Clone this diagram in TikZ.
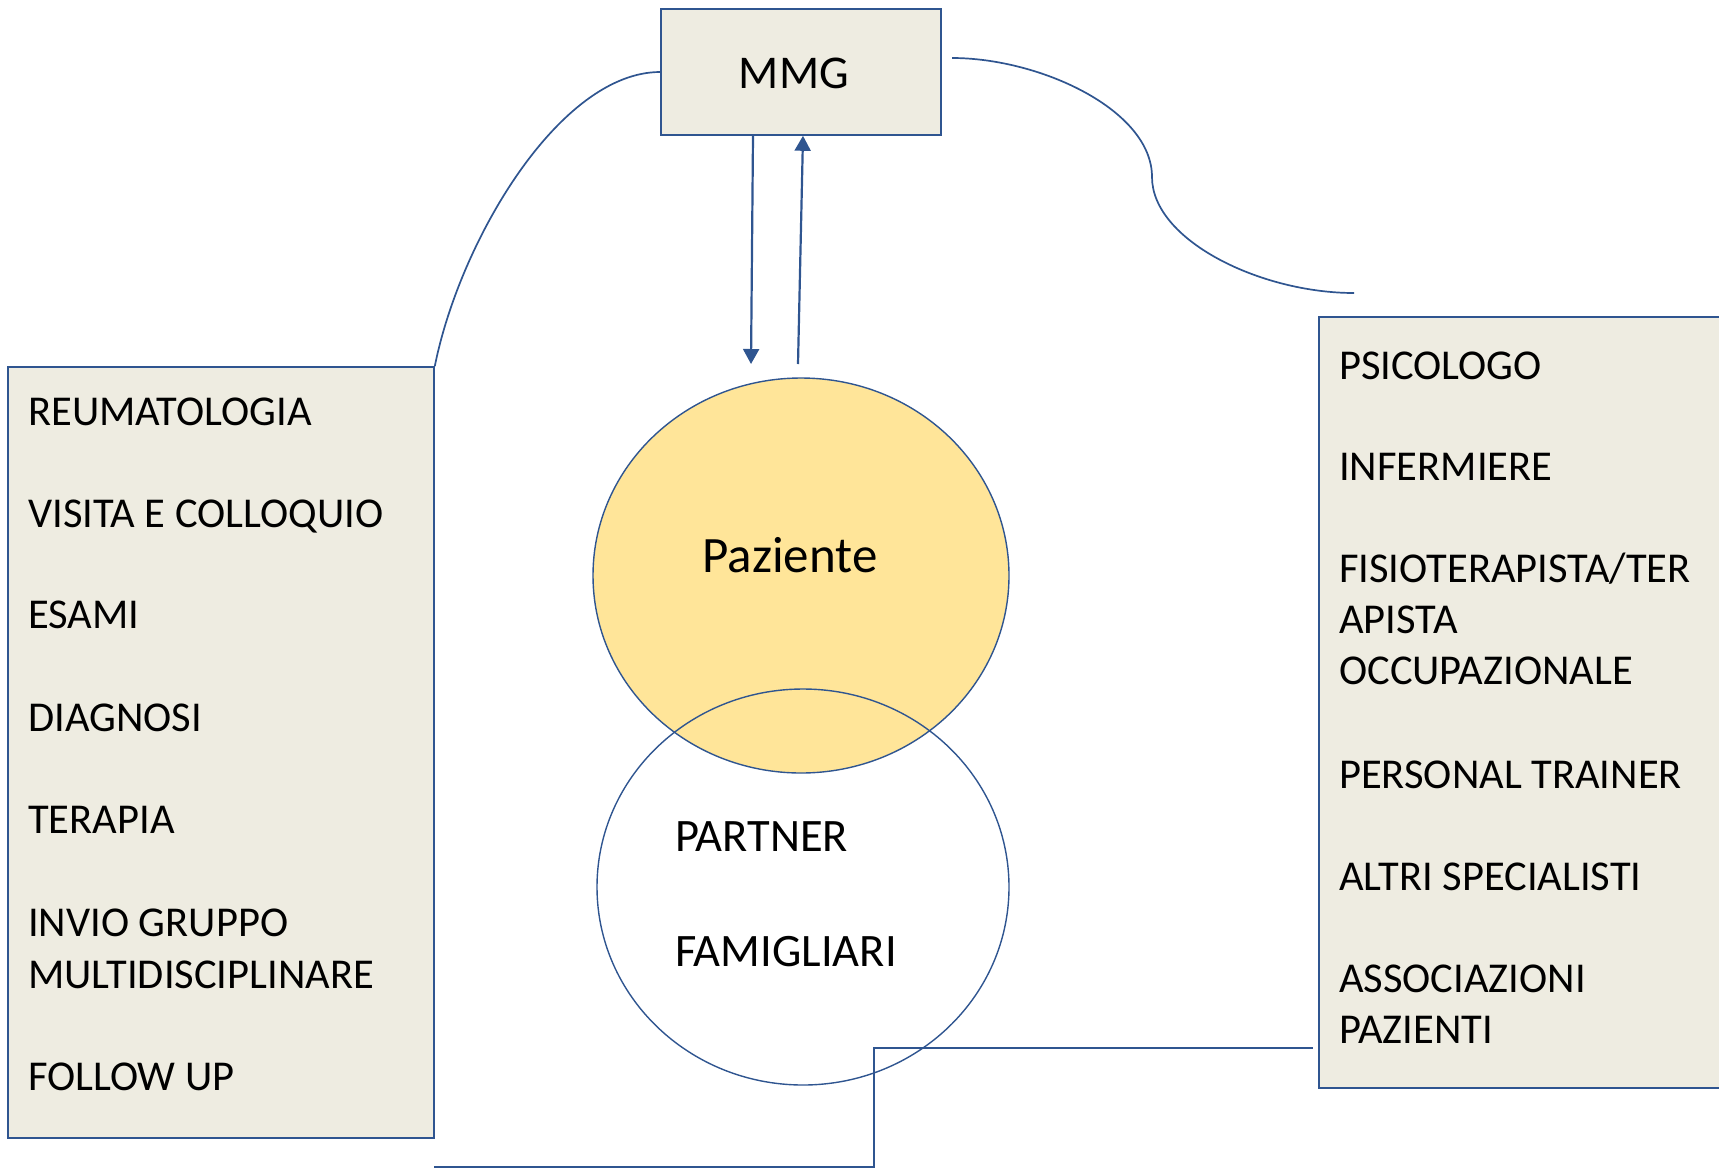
\documentclass[tikz,border=0pt]{standalone}
\usepackage{fontspec}
\setmainfont{Carlito}
\usetikzlibrary{arrows.meta,shapes.geometric}
\definecolor{edge}{HTML}{2F5590}
\definecolor{panel}{HTML}{EEECE1}
\definecolor{gold}{HTML}{FFE599}

\begin{document}
\begin{tikzpicture}[x=1pt,y=-1pt,
  panelbox/.style={rectangle, draw=edge, line width=1.6pt, fill=panel, inner sep=0pt},
  link/.style={draw=edge, line width=1.7pt},
  arr/.style={draw=edge, line width=2.2pt, -{Triangle[width=16pt,length=15pt]}},
  item/.style={anchor=base west, inner sep=0pt, font=\fontsize{42.5}{52}\selectfont},
  bigtext/.style={anchor=base, inner sep=0pt},
]
\useasboundingbox (0,0) rectangle (1719,1168);

% boxes
\node[panelbox, minimum width=280pt, minimum height=126pt] (mmg) at (801,72) {};
\node[bigtext, font=\fontsize{47}{56}\selectfont] (mmgtxt) at (794,88) {MMG};

\node[panelbox, minimum width=426pt, minimum height=771pt] (lbox) at (221,752.5) {};
\node[panelbox, minimum width=421pt, minimum height=771pt] (rbox) at (1529.5,702.5) {};

% patient and family circles
\node[ellipse, draw=edge, line width=1.4pt, fill=gold, minimum width=416pt, minimum height=395pt, inner sep=0pt] (paz) at (801,575.5) {};
\node[ellipse, draw=edge, line width=1.4pt, minimum width=412pt, minimum height=396pt, inner sep=0pt] (fam) at (803,887) {};
\node[bigtext, font=\fontsize{51}{60}\selectfont] (paztxt) at (790,572) {Paziente};
\node[item, font=\fontsize{46.5}{56}\selectfont] (partner) at (675,851) {PARTNER};
\node[item, font=\fontsize{46.5}{56}\selectfont] (famigliari) at (675,966) {FAMIGLIARI};

% left list
\node[item] (l1) at (28,425) {REUMATOLOGIA};
\node[item] (l2) at (28,527) {VISITA E COLLOQUIO};
\node[item] (l3) at (28,628) {ESAMI};
\node[item] (l4) at (28,731) {DIAGNOSI};
\node[item] (l5) at (28,833) {TERAPIA};
\node[item] (l6a) at (28,936) {INVIO GRUPPO};
\node[item] (l6b) at (28,988) {MULTIDISCIPLINARE};
\node[item] (l7) at (28,1090) {FOLLOW UP};

% right list
\node[item] (r1) at (1339,379) {PSICOLOGO};
\node[item] (r2) at (1339,480) {INFERMIERE};
\node[item] (r3a) at (1339,582) {FISIOTERAPISTA/TER};
\node[item] (r3b) at (1339,633) {APISTA};
\node[item] (r3c) at (1339,684) {OCCUPAZIONALE};
\node[item] (r4) at (1339,788) {PERSONAL TRAINER};
\node[item] (r5) at (1339,890) {ALTRI SPECIALISTI};
\node[item] (r6a) at (1339,992) {ASSOCIAZIONI};
\node[item] (r6b) at (1339,1043) {PAZIENTI};

% arrows between MMG and the patient
\coordinate (downtip) at (751,364);
\coordinate (upfoot) at (798,364);
\draw[arr] ([xshift=-48pt]mmg.south) -- (downtip);
\draw[arr] (upfoot) -- ([xshift=2pt]mmg.south);

% curved links
\draw[link] (mmg.west) .. controls (560,72) and (460,240) .. (lbox.north east);
\coordinate (rs) at (952,58);
\coordinate (rm) at (1152,177);
\coordinate (re) at (1354,293);
\draw[link] (rs) .. controls (1040,58) and (1152,110) .. (rm)
               .. controls (1152,240) and (1260,293) .. (re);

% elbow link at the bottom
\coordinate (b1) at (434,1167);
\coordinate (b2) at (874,1167);
\coordinate (b3) at (874,1048);
\coordinate (b4) at (1313,1048);
\draw[link] (b1) -- (b2) -- (b3) -- (b4);
\end{tikzpicture}
\end{document}
